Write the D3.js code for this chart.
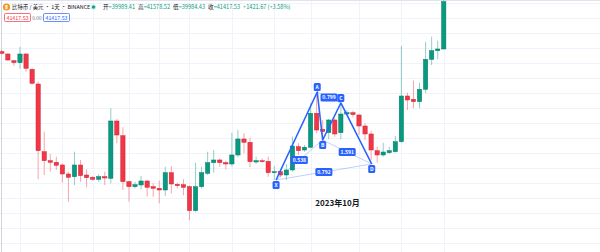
<!DOCTYPE html>
<html><head><meta charset="utf-8">
<script src="https://cdn.jsdelivr.net/npm/d3@7/dist/d3.min.js"></script>
<style>html,body{margin:0;padding:0;background:#fff;}svg{display:block;}</style>
</head><body>
<svg id="c" width="600" height="252"></svg>
<script>
// ---- data (daily candles) ----
const opens  = [39908,39839,39636,39576,39839,39377,38933,36889,36617,36569,36488,36216,36134,36488,36186,36116,36056,36134,36086,37816,37372,35983,35833,35884,36005,35833,35784,35733,36255,35905,35893,35833,35108,35833,36237,36557,36639,36557,36518,36790,37273,37173,36578,36617,36599,36255,36285,36186,36337,37040,36940,37022,38048,37565,37463,37846,37463,38027,38067,37997,37665,37424,36919,36790,36859,36889,37191,38571,38471,38399,38773,39679,39938,39989.41];
const highs  = [39959,39869,39658,40059,39860,39407,39002,37493,36820,36738,36539,36285,36889,36639,36358,36156,36216,36285,38199,37867,37626,36014,35983,36156,36035,35935,36014,36436,36457,35953,36056,35869,36557,36436,36889,36940,36690,36617,37463,37544,37445,37303,36738,36690,36738,36457,36337,36518,37342,37143,37091,38350,38652,37846,37885,37898,38350,38148,38127,38027,37747,37523,37040,37161,37040,37363,40080,38670,39033,38972,40210,40361,40240,41578.52];
const lows   = [39824,39627,39476,39386,39304,38918,36056,36186,36285,36337,35953,35380,35884,35983,35814,36014,35983,35884,35935,37143,35733,35380,35784,35754,35531,35531,35331,35552,35633,35784,35573,34827,35078,35784,36186,36255,36436,36358,36436,36720,36841,36418,36518,36557,36134,36035,36116,36035,36285,36790,36889,36992,37445,37242,37264,37342,37264,37997,37928,37393,37242,36639,36557,36738,36820,36859,37161,38148,38199,38199,38652,39507,39679,39984.43];
const closes = [39860,39658,39576,39839,39407,38954,36919,36617,36569,36479,36216,36116,36488,36165,36104,36056,36134,36095,37816,37393,35983,35833,35893,36005,35814,35784,35733,36255,35914,35863,35814,35108,35833,36255,36557,36639,36557,36518,36790,37273,37173,36587,36617,36599,36255,36285,36186,36337,37061,36919,37022,38048,37544,37505,37846,37424,38027,38067,38006,37665,37424,36940,36790,36880,36919,37191,38571,38450,38399,38773,39679,39938,39990,41417.53];
const startDate = new Date(2023, 7, 11);
const dates = opens.map((_, i) => d3.timeDay.offset(startDate, i));
const gridDays = [3,10,15,21,26,31,38,45,51,59,66,73];          // time-axis gridline positions (candle index)
const gridPrices = d3.range(41369, 33800, -453);              // price gridlines
// harmonic XABCD pattern points: [candle index, price]
const patternPts = [
  {name:"X", i:45.3, p:36035},
  {name:"A", i:52.1, p:38692},
  {name:"B", i:53.0, p:37242},
  {name:"C", i:56.0, p:38360},
  {name:"D", i:61.1, p:36518}
];
const ratios = [
  {a:"X", b:"B", label:"0.538"},
  {a:"A", b:"C", label:"0.799"},
  {a:"B", b:"D", label:"1.591"},
  {a:"X", b:"D", label:"0.792"}
];
const header = {
  title: "比特币 / 美元 · 1天 · BINANCE",
  ohlc: [["开","=39989.41"],["高","=41578.52"],["低","=39984.43"],["收","=41417.53"]],
  change: "+1421.67 (+3.58%)",
  bid: "41417.53", spread: "0.00", ask: "41417.53"
};
const monthLabel = "2023年10月";

// ---- drawing ----
const W = 600, H = 252;
const svg = d3.select("#c");
const n = opens.length;
const step = 6.03;
const x = d3.scaleBand().domain(d3.range(n)).range([2.7 - step/2, 2.7 + (n - 0.5) * step]).paddingInner(0.29);
const xcenter = i => x(Math.floor(i)) + x.bandwidth()/2 + (i - Math.floor(i)) * x.step();
const y = d3.scaleLinear().domain([33861, 41469]).range([H, 0]);

const GREEN = "#089981", RED = "#f23645", BLUE = "#2962ff";
const font = "'Noto Sans CJK SC','Noto Sans',sans-serif";

// grid
const grid = svg.append("g");
grid.selectAll("line.h").data(gridPrices).join("line")
  .attr("x1", 0).attr("x2", W).attr("y1", d => Math.round(y(d)) + 0.5).attr("y2", d => Math.round(y(d)) + 0.5)
  .attr("stroke", "#f0f3fa").attr("stroke-width", 1);
grid.selectAll("line.v").data(gridDays).join("line")
  .attr("y1", 0).attr("y2", H).attr("x1", d => Math.round(xcenter(d)) + 0.5).attr("x2", d => Math.round(xcenter(d)) + 0.5)
  .attr("stroke", "#f0f3fa").attr("stroke-width", 1);
// borders
svg.append("line").attr("x1", 0).attr("x2", W).attr("y1", 0.5).attr("y2", 0.5).attr("stroke", "#e0e3eb");
svg.append("line").attr("x1", 1.5).attr("x2", 1.5).attr("y1", 0).attr("y2", H).attr("stroke", "#d1d4dc");

// candles
const data = opens.map((o, i) => ({i, d: dates[i], o, h: highs[i], l: lows[i], c: closes[i]}));
const cg = svg.append("g");
cg.selectAll("line.wick").data(data).join("line")
  .attr("x1", d => xcenter(d.i)).attr("x2", d => xcenter(d.i))
  .attr("y1", d => y(d.h)).attr("y2", d => y(d.l))
  .attr("stroke", d => d.c >= d.o ? GREEN : RED).attr("stroke-opacity", 0.45).attr("stroke-width", 1);
cg.selectAll("rect.body").data(data).join("rect")
  .attr("x", d => x(d.i)).attr("width", x.bandwidth())
  .attr("y", d => y(Math.max(d.o, d.c)))
  .attr("height", d => Math.max(1, y(Math.min(d.o, d.c)) - y(Math.max(d.o, d.c))))
  .attr("fill", d => d.c >= d.o ? GREEN : RED)
  .attr("stroke", d => d.c >= d.o ? "#067a67" : "#c92a3a").attr("stroke-width", 0.5);

// pattern
const P = {};
patternPts.forEach(p => P[p.name] = {x: xcenter(p.i), y: y(p.p)});
const pg = svg.append("g");
ratios.forEach(r => {
  pg.append("line").attr("x1", P[r.a].x).attr("y1", P[r.a].y).attr("x2", P[r.b].x).attr("y2", P[r.b].y)
    .attr("stroke", BLUE).attr("stroke-opacity", 0.3).attr("stroke-width", 1);
});
const path = d3.line().x(d => P[d.name].x).y(d => P[d.name].y);
pg.append("path").attr("d", path(patternPts)).attr("fill", "none").attr("stroke", BLUE).attr("stroke-width", 1.6).attr("stroke-linejoin", "round");
// ratio labels
ratios.forEach(r => {
  const mx = (P[r.a].x + P[r.b].x)/2, my = (P[r.a].y + P[r.b].y)/2;
  pg.append("rect").attr("x", mx - 8.5).attr("y", my - 4).attr("width", 17).attr("height", 8).attr("rx", 1.5).attr("fill", BLUE);
  pg.append("text").attr("x", mx).attr("y", my + 2).attr("text-anchor", "middle").attr("fill", "#fff")
    .attr("font-family", font).attr("font-size", 5).attr("font-weight", "bold").text(r.label);
});
// point labels
patternPts.forEach(p => {
  const up = (p.name === "A" || p.name === "C");
  const cx = P[p.name].x, cy = up ? P[p.name].y - 5 : P[p.name].y + 5;
  pg.append("rect").attr("x", cx - 3.5).attr("y", cy - 4).attr("width", 7).attr("height", 8).attr("rx", 1.5).attr("fill", BLUE);
  pg.append("text").attr("x", cx).attr("y", cy + 2).attr("text-anchor", "middle").attr("fill", "#fff")
    .attr("font-family", font).attr("font-size", 5).attr("font-weight", "bold").text(p.name);
});

// month label
svg.append("text").attr("x", 337.5).attr("y", 206).attr("text-anchor", "middle").attr("font-family", font)
  .attr("font-size", 8).attr("font-weight", "bold").attr("fill", "#131722").text(monthLabel);

// header
const hg = svg.append("g").attr("font-family", font);
hg.append("circle").attr("cx", 6.5).attr("cy", 7).attr("r", 3.6).attr("fill", "#f7931a");
hg.append("text").attr("x", 6.5).attr("y", 9).attr("text-anchor", "middle").attr("font-size", 5).attr("font-weight", "bold").attr("fill", "#fff").text("₿");
hg.append("text").attr("x", 12).attr("y", 9.3).attr("font-size", 5.4).attr("fill", "#131722").text(header.title);
hg.append("circle").attr("cx", 93.5).attr("cy", 7).attr("r", 2.6).attr("fill", GREEN).attr("fill-opacity", 0.25);
hg.append("circle").attr("cx", 93.5).attr("cy", 7).attr("r", 1.5).attr("fill", GREEN);
const t = hg.append("text").attr("x", 103).attr("y", 9.3).attr("font-size", 5.6);
header.ohlc.forEach(([k, v], idx) => {
  t.append("tspan").attr("fill", "#131722").attr("dx", idx ? 3 : 0).text(k);
  t.append("tspan").attr("fill", GREEN).text(v);
});
t.append("tspan").attr("fill", GREEN).attr("dx", 3).text(header.change);
// bid/ask
hg.append("rect").attr("x", 4.5).attr("y", 13.5).attr("width", 26).attr("height", 8).attr("rx", 1).attr("fill", "#fff").attr("stroke", RED).attr("stroke-width", 0.7);
hg.append("text").attr("x", 17.5).attr("y", 19.6).attr("text-anchor", "middle").attr("font-size", 5.3).attr("fill", RED).text(header.bid);
hg.append("text").attr("x", 37).attr("y", 19.6).attr("text-anchor", "middle").attr("font-size", 4.8).attr("fill", "#787b86").text(header.spread);
hg.append("rect").attr("x", 43.5).attr("y", 13.5).attr("width", 26).attr("height", 8).attr("rx", 1).attr("fill", "#fff").attr("stroke", BLUE).attr("stroke-width", 0.7);
hg.append("text").attr("x", 56.5).attr("y", 19.6).attr("text-anchor", "middle").attr("font-size", 5.3).attr("fill", BLUE).text(header.ask);
</script>
</body></html>
